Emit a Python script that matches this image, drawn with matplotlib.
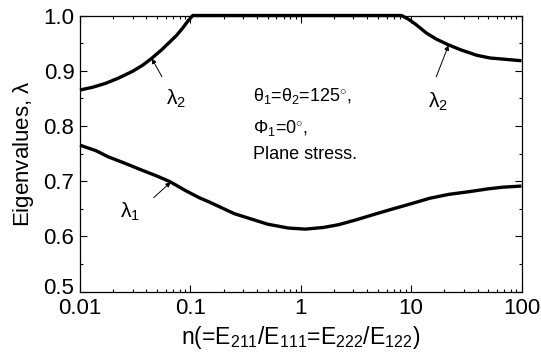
import matplotlib
matplotlib.use("Agg")
import matplotlib.pyplot as plt
import matplotlib.transforms as mtransforms
from matplotlib.ticker import LogLocator, MultipleLocator, NullFormatter

plt.rcParams['font.family'] = ['Liberation Sans', 'DejaVu Sans']
plt.rcParams['mathtext.fontset'] = 'custom'
plt.rcParams['mathtext.rm'] = 'Liberation Sans'
plt.rcParams['mathtext.it'] = 'Liberation Sans'

# lambda_2 (upper curve)
n2 = [0.01, 0.013, 0.017, 0.022, 0.03, 0.037, 0.045, 0.055, 0.065, 0.075, 0.085, 0.095, 0.105,
      1.0, 8.2, 9.5, 11, 13.8, 17, 21.7, 28, 39.2, 52, 68, 100]
lam2 = [0.865, 0.870, 0.877, 0.886, 0.899, 0.910, 0.923, 0.938, 0.952, 0.964, 0.977, 0.990, 1.0,
        1.0, 1.0, 0.993, 0.984, 0.968, 0.957, 0.947, 0.938, 0.928, 0.923, 0.921, 0.918]

# lambda_1 (lower curve)
n1 = [0.01, 0.014, 0.018, 0.025, 0.0362, 0.05, 0.0653, 0.09, 0.12, 0.145, 0.2, 0.25, 0.335, 0.5,
      0.77, 1.1, 1.6, 2.2, 3.2, 4.5, 6.4, 10, 14.8, 22, 34, 50, 68, 100]
lam1 = [0.765, 0.755, 0.744, 0.733, 0.720, 0.709, 0.699, 0.683, 0.670, 0.663, 0.650, 0.641, 0.633, 0.622,
        0.615, 0.613, 0.616, 0.621, 0.630, 0.639, 0.648, 0.659, 0.669, 0.676, 0.681, 0.686, 0.689, 0.691]

xticks = [0.01, 0.1, 1, 10, 100]
xticklabels = ['0.01', '0.1', '1', '10', '100']
yticks = [0.5, 0.6, 0.7, 0.8, 0.9, 1.0]
yticklabels = ['0.5', '0.6', '0.7', '0.8', '0.9', '1.0']

fig = plt.figure(figsize=(5.41, 3.60), dpi=100)
ax = fig.add_axes([80/541, 1 - 291.5/360, (521.5-80)/541, (291.5-15.5)/360])

ax.plot(n2, lam2, color='black', lw=2.4, solid_capstyle='butt', solid_joinstyle='round', clip_on=False)
ax.plot(n1, lam1, color='black', lw=2.4, solid_capstyle='butt', solid_joinstyle='round', clip_on=False)

ax.set_xscale('log')
ax.set_xlim(0.01, 100)
ax.set_ylim(0.5, 1.0)
ax.set_xticks(xticks)
ax.set_xticklabels(xticklabels)
ax.xaxis.set_minor_locator(LogLocator(base=10, subs=range(2, 10)))
ax.xaxis.set_minor_formatter(NullFormatter())
ax.set_yticks(yticks)
ax.set_yticklabels(yticklabels)
ax.yaxis.set_minor_locator(MultipleLocator(0.05))

ax.tick_params(which='both', direction='in', top=True, right=True, labelsize=16, width=0.8)
ax.tick_params(which='major', length=5)
ax.tick_params(axis='x', which='major', pad=5)
ax.tick_params(axis='y', which='major', pad=4)
ax.tick_params(which='minor', length=2.5)
for s in ax.spines.values():
    s.set_linewidth(0.9)

# nudge the bottom y label up slightly so it does not collide with "0.01"
lbl = ax.get_yticklabels()[0]
lbl.set_transform(lbl.get_transform() + mtransforms.ScaledTranslation(0, 5/100, fig.dpi_scale_trans))

ax.set_xlabel(r'n(=E$_{211}$/E$_{111}$=E$_{222}$/E$_{122}$)', fontsize=16.5, labelpad=3)
ax.set_ylabel(r'Eigenvalues, $\lambda$', fontsize=16, labelpad=5)

ax.text(0.37, 0.855, r'$\theta_1$=$\theta_2$=125$^{\circ}$,', fontsize=13, va='center')
ax.text(0.37, 0.797, r'$\Phi_1$=0$^{\circ}$,', fontsize=13, va='center')
ax.text(0.37, 0.748, 'Plane stress.', fontsize=13, va='center')

ax.text(0.074, 0.849, r'$\lambda_2$', fontsize=15, ha='center', va='center')
ax.text(17.5, 0.843, r'$\lambda_2$', fontsize=15, ha='center', va='center')
ax.text(0.0286, 0.644, r'$\lambda_1$', fontsize=15, ha='center', va='center')

arrow = dict(arrowstyle='-|>', color='black', lw=0.7, mutation_scale=7, shrinkA=0, shrinkB=0)
ax.annotate('', xy=(0.0447, 0.922), xytext=(0.0553, 0.889), arrowprops=arrow)
ax.annotate('', xy=(21.8, 0.946), xytext=(16.9, 0.889), arrowprops=arrow)
ax.annotate('', xy=(0.0664, 0.698), xytext=(0.0465, 0.670), arrowprops=arrow)

fig.savefig('out.png', dpi=100)
